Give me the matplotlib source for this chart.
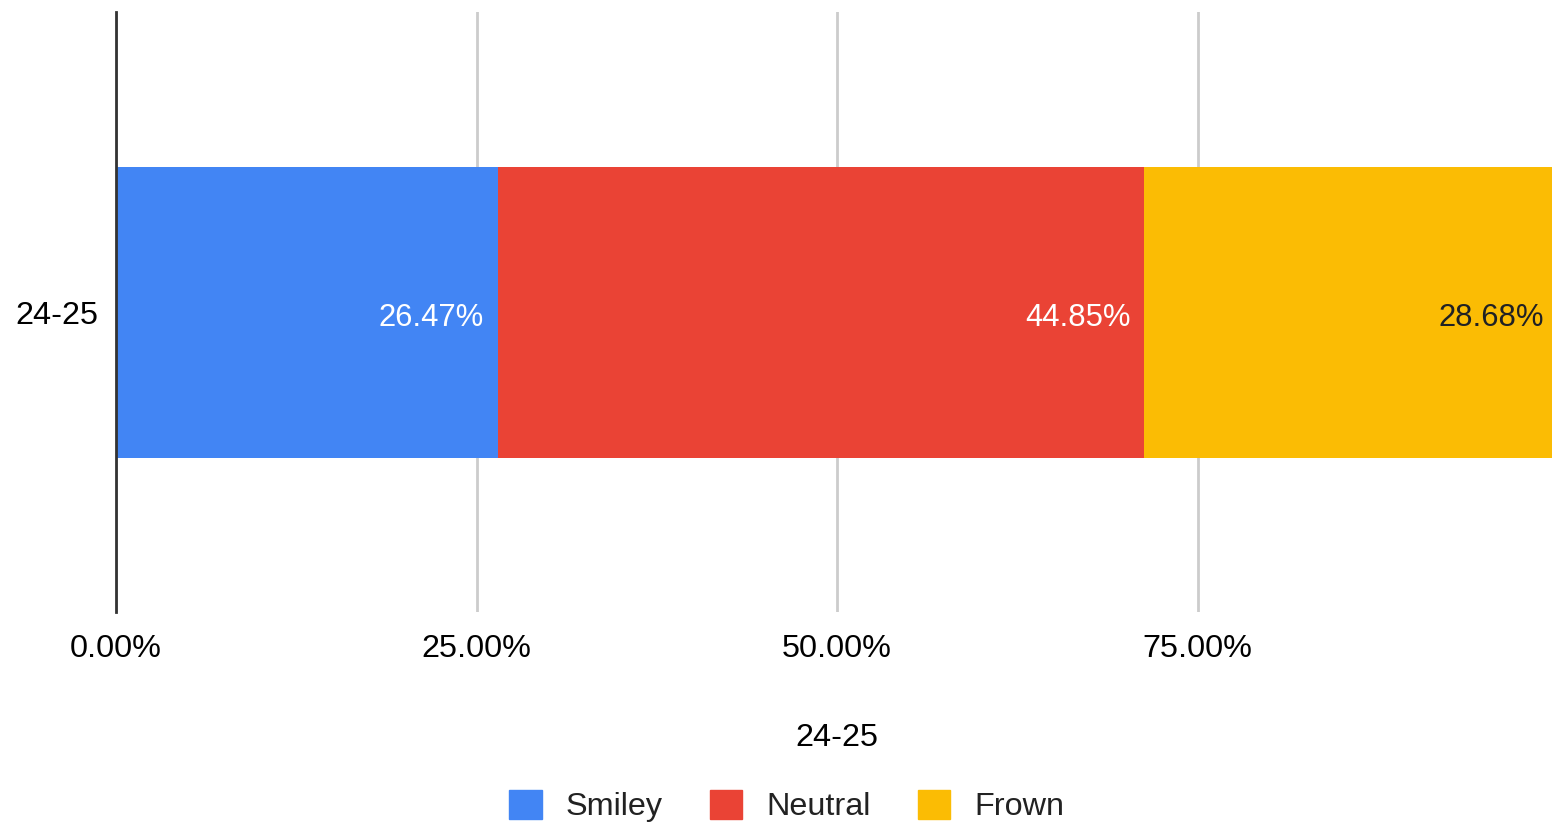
import matplotlib.pyplot as plt
from matplotlib.patches import Patch

plt.rcParams['font.family'] = ['Liberation Sans', 'DejaVu Sans']

# Data
category = '24-25'
series = ['Smiley', 'Neutral', 'Frown']
values = [26.47, 44.85, 28.68]
colors = ['#4285F4', '#EA4335', '#FBBC04']
label_colors = ['white', 'white', '#202124']
ticks = [0, 25, 50, 75]
tick_labels = ['0.00%', '25.00%', '50.00%', '75.00%']

W, H = 1552, 825
fig = plt.figure(figsize=(W / 100, H / 100), dpi=100)
# plot area runs a bit past the right edge, like the cropped original
ax = fig.add_axes([116 / W, (H - 612) / H, 1442 / W, 600 / H])

left = 0
for name, v, c, lc in zip(series, values, colors, label_colors):
    ax.barh(0, v, left=left, height=0.97, color=c, zorder=2)
    ax.text(left + v - 0.95, -0.02, f'{v:.2f}%', ha='right', va='center',
            color=lc, fontsize=22.3, zorder=3)
    left += v

ax.set_xlim(0, 100)
ax.set_ylim(-1, 1)
ax.set_xticks(ticks)
ax.set_xticklabels(tick_labels, fontsize=23.3)
ax.set_yticks([0])
ax.set_yticklabels([category], fontsize=23.3)
ax.tick_params(axis='x', length=0, pad=16)
ax.tick_params(axis='y', length=0, pad=13)
ax.xaxis.grid(True, color='#cccccc', linewidth=2, zorder=0)
ax.set_axisbelow(True)
for s in ['top', 'right', 'bottom']:
    ax.spines[s].set_visible(False)
ax.spines['left'].set_color('#333333')
ax.spines['left'].set_linewidth(2)
ax.spines['left'].set_zorder(4)
ax.set_xlabel(category, fontsize=23.3, labelpad=42)

handles = [Patch(facecolor=c, edgecolor=c, label=n) for n, c in zip(series, colors)]
fig.legend(handles=handles, loc='center', bbox_to_anchor=(787 / W, (H - 806) / H),
           ncol=3, frameon=False, fontsize=23.3, handlelength=1.0, handleheight=1.0,
           handletextpad=0.75, columnspacing=1.45, labelcolor='#222222')

fig.savefig('out.png', dpi=100)
